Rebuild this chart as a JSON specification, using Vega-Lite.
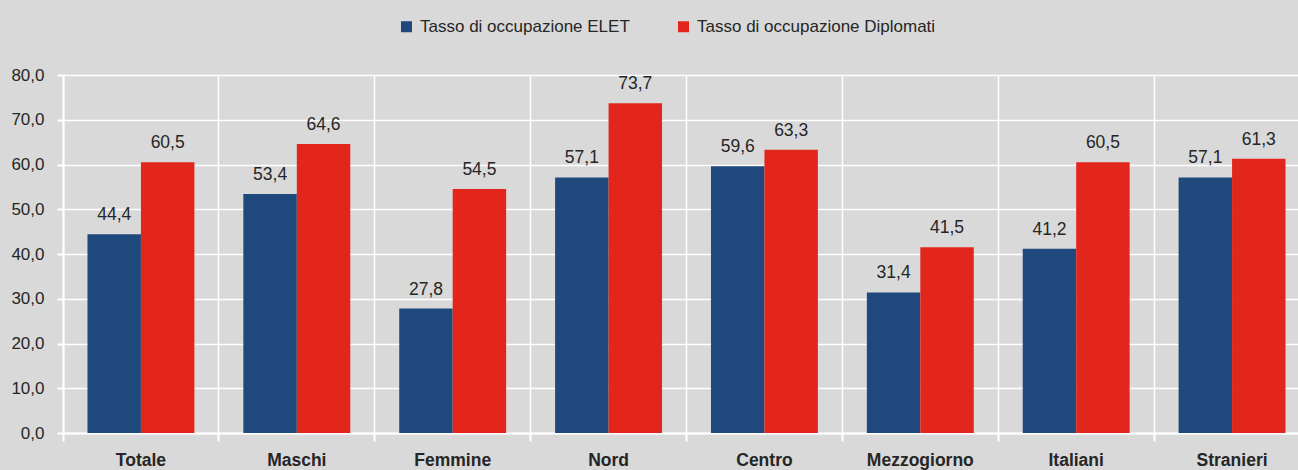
{
  "$schema": "https://vega.github.io/schema/vega-lite/v6.json",
  "autosize": {"type": "none"},
  "padding": {"left": 63, "top": 75, "right": 0, "bottom": 37},
  "width": 1235,
  "height": 358,
  "background": "#d9d9d9",
  "config": {
    "view": {"stroke": null},
    "font": "Liberation Sans",
    "locale": {"number": {"decimal": ",", "thousands": ".", "grouping": [3], "currency": ["", " €"]}}
  },
  "data": {
    "values": [
      {"cat": "Totale", "serie": "Tasso di occupazione ELET", "v": 44.4},
      {"cat": "Totale", "serie": "Tasso di occupazione Diplomati", "v": 60.5},
      {"cat": "Maschi", "serie": "Tasso di occupazione ELET", "v": 53.4},
      {"cat": "Maschi", "serie": "Tasso di occupazione Diplomati", "v": 64.6},
      {"cat": "Femmine", "serie": "Tasso di occupazione ELET", "v": 27.8},
      {"cat": "Femmine", "serie": "Tasso di occupazione Diplomati", "v": 54.5},
      {"cat": "Nord", "serie": "Tasso di occupazione ELET", "v": 57.1},
      {"cat": "Nord", "serie": "Tasso di occupazione Diplomati", "v": 73.7},
      {"cat": "Centro", "serie": "Tasso di occupazione ELET", "v": 59.6},
      {"cat": "Centro", "serie": "Tasso di occupazione Diplomati", "v": 63.3},
      {"cat": "Mezzogiorno", "serie": "Tasso di occupazione ELET", "v": 31.4},
      {"cat": "Mezzogiorno", "serie": "Tasso di occupazione Diplomati", "v": 41.5},
      {"cat": "Italiani", "serie": "Tasso di occupazione ELET", "v": 41.2},
      {"cat": "Italiani", "serie": "Tasso di occupazione Diplomati", "v": 60.5},
      {"cat": "Stranieri", "serie": "Tasso di occupazione ELET", "v": 57.1},
      {"cat": "Stranieri", "serie": "Tasso di occupazione Diplomati", "v": 61.3}
    ]
  },
  "encoding": {
    "x": {
      "field": "cat", "type": "nominal", "sort": null, "title": null,
      "scale": {"range": [0, 1247], "paddingInner": 0, "paddingOuter": 0},
      "axis": {
        "bandPosition": 0,
        "grid": true, "gridColor": "#ffffff", "gridWidth": 1.5,
        "domainColor": "#ffffff", "domainWidth": 2,
        "tickColor": "#ffffff", "tickWidth": 2, "tickSize": 8,
        "labelAngle": 0, "labelFont": "Liberation Sans", "labelFontSize": 17.5,
        "labelFontWeight": "bold", "labelColor": "#262626", "labelPadding": 10
      }
    },
    "xOffset": {
      "field": "serie", "type": "nominal", "sort": ["Tasso di occupazione ELET", "Tasso di occupazione Diplomati"],
      "scale": {"paddingInner": 0, "paddingOuter": 0.458}
    },
    "y": {
      "field": "v", "type": "quantitative", "title": null,
      "scale": {"domain": [0, 80], "nice": false},
      "axis": {
        "values": [0, 10, 20, 30, 40, 50, 60, 70, 80],
        "format": ".1f",
        "grid": true, "gridColor": "#ffffff", "gridWidth": 1.5,
        "domainColor": "#ffffff", "domainWidth": 2,
        "tickColor": "#ffffff", "tickWidth": 2, "tickSize": 6,
        "labelFont": "Liberation Sans", "labelFontSize": 17,
        "labelColor": "#262626", "labelPadding": 13
      }
    }
  },
  "layer": [
    {
      "mark": {"type": "bar"},
      "encoding": {
        "color": {
          "field": "serie", "type": "nominal",
          "scale": {"domain": ["Tasso di occupazione ELET", "Tasso di occupazione Diplomati"], "range": ["#1f497d", "#e3261b"]},
          "legend": {
            "title": null, "orient": "none", "direction": "horizontal",
            "legendX": 335, "legendY": -57,
            "symbolType": "square", "symbolSize": 121, "symbolStrokeWidth": 0,
            "labelFont": "Liberation Sans", "labelFontSize": 17, "labelColor": "#262626",
            "columnPadding": 45, "labelOffset": 5, "labelLimit": 400
          }
        }
      }
    },
    {
      "mark": {"type": "text", "baseline": "alphabetic", "dy": -14, "fontSize": 17.5, "color": "#262626", "font": "Liberation Sans"},
      "encoding": {
        "text": {"field": "v", "type": "quantitative", "format": ".1f"}
      }
    }
  ]
}
